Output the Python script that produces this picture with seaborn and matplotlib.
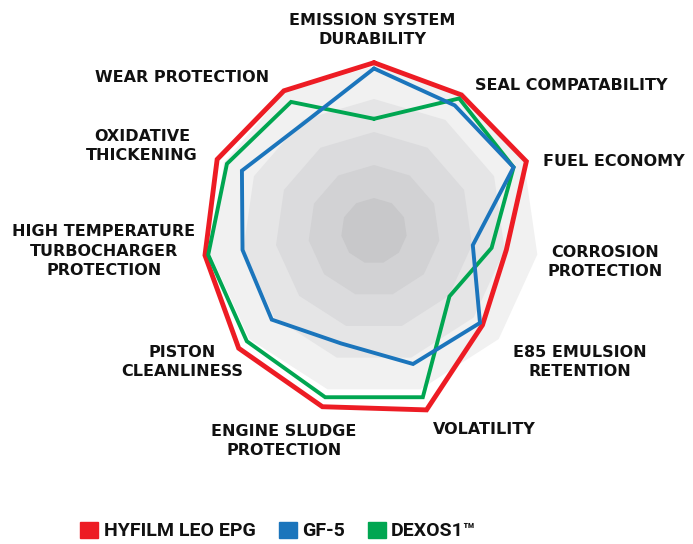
import numpy as np
import pandas as pd
import matplotlib
matplotlib.use("Agg")
import matplotlib.pyplot as plt
import seaborn as sns
from matplotlib.patches import Rectangle

#%% data
categories = ["EMISSION SYSTEM\nDURABILITY", "SEAL COMPATABILITY", "FUEL ECONOMY",
              "CORROSION\nPROTECTION", "E85 EMULSION\nRETENTION", "VOLATILITY",
              "ENGINE SLUDGE\nPROTECTION", "PISTON\nCLEANLINESS",
              "HIGH TEMPERATURE\nTURBOCHARGER\nPROTECTION",
              "OXIDATIVE\nTHICKENING", "WEAR PROTECTION"]
hyfilm = [102, 98, 101.5, 81, 87, 113, 111, 108.5, 103.5, 104.5, 101]
gf5 = [98.5, 90.5, 93, 60.5, 85, 84, 71, 82, 80.5, 88, 78]
dexos1 = [68, 95.5, 93, 72, 60.5, 105, 105, 102, 101.5, 98, 93]
series_names = ["HYFILM LEO EPG", "GF-5", "DEXOS1\u2122"]
grid_levels = [100, 80, 60, 40, 20]

#%% style
sns.set_theme(style="white")
plt.rcParams["font.family"] = ["DejaVu Sans"]
colors = {"HYFILM LEO EPG": "#ed1c24", "GF-5": "#1b75bc", "DEXOS1\u2122": "#00a651"}
grid_colors = ["#f1f1f1", "#e5e5e6", "#dbdbdd", "#d2d2d4", "#c8c8ca"]

n = len(categories)
angles = np.linspace(0, 2 * np.pi, n, endpoint=False)
angles_closed = np.append(angles, angles[0])

rows = []
for name, vals in zip(series_names, [hyfilm, gf5, dexos1]):
    for i, (a, v) in enumerate(zip(angles_closed, vals + vals[:1])):
        rows.append({"series": name, "angle": a, "value": v, "order": i})
df = pd.DataFrame(rows)

W, H = 693, 544
fig = plt.figure(figsize=(W / 100, H / 100), dpi=100)
cx, cy = 374, 231
rmax = 115
rpx = rmax * 1.65
ax = fig.add_axes([(cx - rpx) / W, (H - cy - rpx) / H, 2 * rpx / W, 2 * rpx / H],
                  projection="polar")
ax.set_theta_zero_location("N")
ax.set_theta_direction(-1)
ax.set_ylim(0, rmax)

# grey background polygons
for lvl, c in zip(grid_levels, grid_colors):
    ax.fill(angles_closed, [lvl] * (n + 1), color=c, lw=0, zorder=1)

# series lines
widths = {"HYFILM LEO EPG": 3.5, "GF-5": 2.8, "DEXOS1\u2122": 2.8}
zorders = {"HYFILM LEO EPG": 3, "DEXOS1\u2122": 4, "GF-5": 5}
for name in series_names:
    sub = df[df["series"] == name]
    sns.lineplot(data=sub, x="angle", y="value", sort=False, estimator=None,
                 color=colors[name], lw=widths[name], ax=ax, legend=False,
                 zorder=zorders[name], solid_joinstyle="miter")

ax.set_axis_off()

# category labels
label_pos = [(372, 30), (571, 86), (614, 162), (605, 262), (580, 362), (484, 430),
             (284, 441), (182, 362), (104, 251), (142, 146), (182, 78)]
for lab, (x, y) in zip(categories, label_pos):
    fig.text(x / W, 1 - y / H, lab, ha="center", va="center", fontsize=11.5,
             fontweight="bold", color="#111111", linespacing=1.4)

# legend
leg_items = [(80, 104), (279, 302), (368, 391)]
for name, (sx, tx) in zip(series_names, leg_items):
    fig.patches.append(Rectangle((sx / W, 1 - 538 / H), 18 / W, 16 / H,
                                 transform=fig.transFigure, color=colors[name]))
    fig.text(tx / W, 1 - 531 / H, name, ha="left", va="center", fontsize=14,
             fontweight="bold", color="#111111", family=["Roboto", "DejaVu Sans"])

fig.savefig("out.png", dpi=100)
